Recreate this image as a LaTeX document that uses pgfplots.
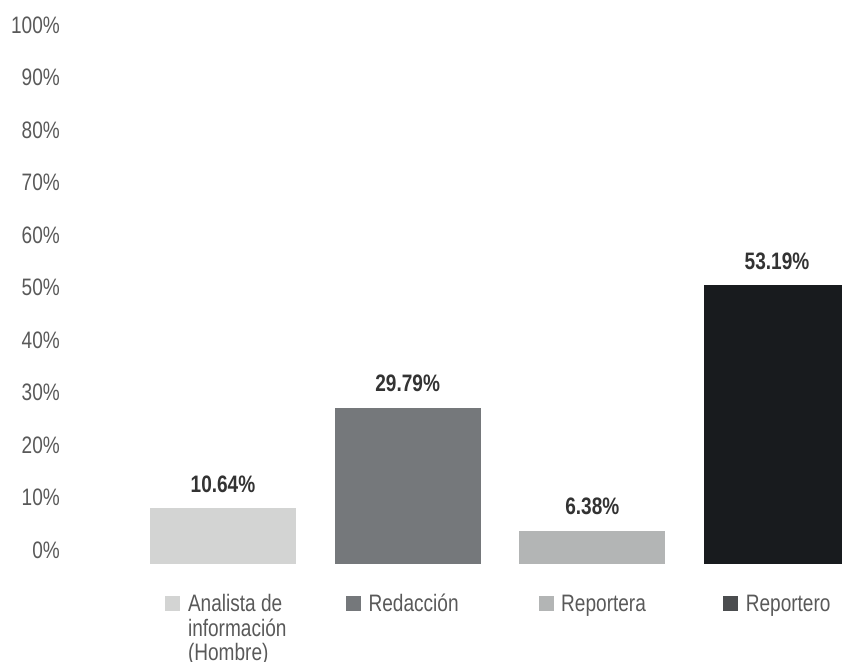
\documentclass[border=0pt]{standalone}
\usepackage{pgfplots}
\pgfplotsset{compat=1.18}
\usepackage{fontspec}
\setmainfont{Liberation Sans}[FakeStretch=0.8]
\definecolor{barA}{HTML}{D3D4D3}
\definecolor{barB}{HTML}{75787B}
\definecolor{barC}{HTML}{B3B5B5}
\definecolor{barD}{HTML}{181B1E}
\definecolor{legD}{HTML}{4B4D4F}
\definecolor{ticktext}{HTML}{595959}
\definecolor{labtext}{HTML}{333333}
\newcommand{\chartfont}{\fontsize{11.9}{12.2}\selectfont}
\begin{document}
\chartfont
\begin{tikzpicture}
\begin{axis}[
  at={(0pt,0pt)}, anchor=south west,
  scale only axis, width=369.35pt, height=262.5pt,
  xmin=-0.5, xmax=3.5, ymin=0, ymax=100,
  ybar, bar width=73pt,
  axis line style={draw=none}, tick style={draw=none},
  xtick=\empty, ytick={0,10,...,100},
  /pgf/number format/assume math mode=true,
  yticklabel={\pgfmathprintnumber{\tick}\%},
  yticklabel style={inner sep=0pt, anchor=east, xshift=-35.2pt, yshift=7pt,
    text=ticktext, font=\chartfont},
  nodes near coords={\pgfmathprintnumber[fixed,fixed zerofill,precision=2]{\pgfplotspointmeta}\%},
  nodes near coords style={font=\chartfont\bfseries, text=labtext,
    inner sep=0pt, anchor=south, yshift=7.5pt},
  legend columns=4,
  legend image code/.code={\fill[#1] (0pt,0.5pt) rectangle (7.5pt,8pt); \path (11.3pt,0pt);},
  legend style={at={(0,0)}, anchor=north west, xshift=17.2pt, yshift=-15pt,
    draw=none, fill=none, inner sep=0pt, column sep=0pt, row sep=0pt,
    cells={anchor=base west},
    nodes={inner sep=0pt, text=ticktext, font=\chartfont}},
]
\addplot[fill=barA, draw=none, bar shift=0pt] coordinates {(0,10.64)};
\addlegendentry{\parbox[t]{79pt}{\raggedright Analista de\\información\\(Hombre)}}
\addplot[fill=barB, draw=none, bar shift=0pt] coordinates {(1,29.79)};
\addlegendentry{\parbox[t]{85pt}{Redacción}}
\addplot[fill=barC, draw=none, bar shift=0pt] coordinates {(2,6.38)};
\addlegendentry{\parbox[t]{81pt}{Reportera}}
\addplot[fill=barD, draw=none, bar shift=0pt,
  legend image code/.code={\fill[legD] (0pt,0.5pt) rectangle (7.5pt,8pt); \path (11.3pt,0pt);}]
  coordinates {(3,53.19)};
\addlegendentry{\parbox[t]{40pt}{Reportero}}
\end{axis}
\pgfresetboundingbox
\useasboundingbox (-65.325pt,-48.5pt) rectangle (355.675pt,282pt);
\end{tikzpicture}
\end{document}
